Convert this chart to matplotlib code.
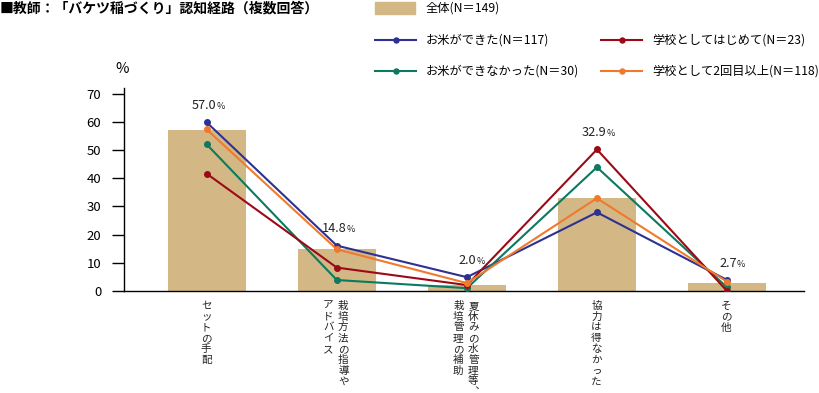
import numpy as np
import matplotlib
matplotlib.use("Agg")
import matplotlib.pyplot as plt
from matplotlib.lines import Line2D
from matplotlib.patches import Rectangle

plt.rcParams['font.family'] = ['Noto Sans CJK JP', 'DejaVu Sans']

W, H = 819, 393

# ── data ────────────────────────────────────────────────────────────────────
title = "■教師：「バケツ稲づくり」認知経路（複数回答）"

# vertical labels, columns listed right -> left
categories = [
    ["セットの手配"],
    ["栽培方法の指導や", "アドバイス"],
    ["夏休みの水管理等︑", "栽培管理の補助"],
    ["協力は得なかった"],
    ["その他"],
]
total = [57.0, 14.8, 2.0, 32.9, 2.7]
rice_ok = [59.8, 16.1, 4.9, 27.9, 3.9]
rice_ng = [52.0, 3.9, 1.0, 43.9, 1.3]
first_time = [41.6, 8.3, 2.1, 50.2, 0.0]
second_up = [57.3, 14.8, 2.8, 32.9, 3.3]

total_label = "全体(N＝149)"
series = [
    ("お米ができた(N＝117)", rice_ok, "#2E3192"),
    ("お米ができなかった(N＝30)", rice_ng, "#0B7A5F"),
    ("学校としてはじめて(N＝23)", first_time, "#9B0A16"),
    ("学校として2回目以上(N＝118)", second_up, "#F07A2C"),
]
yticks = [0, 10, 20, 30, 40, 50, 60, 70]
BAR_COLOR = "#D3B886"


def fx(px):
    return px / W


def fy(py):
    return 1 - py / H


fig = plt.figure(figsize=(W / 100, H / 100), dpi=100)
ax = fig.add_axes([fx(124), fy(291), (804 - 124) / W, (291 - 88) / H])

x = np.arange(len(total))
ax.bar(x, total, width=0.6, color=BAR_COLOR, zorder=1)
for name, vals, color in series:
    ax.plot(x, vals, color=color, lw=1.5, marker="o", ms=4, zorder=3)

ax.set_xlim(-0.636, 4.592)
ax.set_ylim(0, 72)
ax.set_yticks(yticks)
ax.set_xticks([])
for s in ["top", "right"]:
    ax.spines[s].set_visible(False)
for s in ["left", "bottom"]:
    ax.spines[s].set_linewidth(1.0)
ax.tick_params(axis="y", length=8.8, width=1.0, labelsize=9.5, pad=7.5)

# value labels above each group
for i, v in enumerate(total):
    top = max([total[i]] + [vals[i] for _, vals, _ in series])
    ax.annotate(f"{v:.1f}", xy=(i, top), xytext=(7, 12), textcoords="offset points",
                ha="right", va="center", fontsize=9.2, color="#222222")
    ax.annotate("%", xy=(i, top), xytext=(7, 11.5), textcoords="offset points",
                ha="left", va="center", fontsize=6.5, color="#222222")

# vertical category labels
for i, cols in enumerate(categories):
    if len(cols) == 1:
        offs = [-0.5]
    else:
        offs = [6.5, -8.5]
    for col, dx in zip(cols, offs):
        ax.annotate("\n".join(col), xy=(i, 0), xycoords=("data", "axes fraction"),
                    xytext=(dx / 1.389, -7), textcoords="offset points",
                    ha="center", va="top", fontsize=7.6, linespacing=1.1,
                    color="#222222")

fig.text(fx(122), fy(69), "%", ha="center", va="center", fontsize=10.5)

# title
fig.text(fx(0), fy(8), title, ha="left", va="center", fontsize=10, fontweight="bold")

# legend (drawn by hand to match layout)
fig.add_artist(Rectangle((fx(375), fy(14)), (415 - 375) / W, 12 / H,
                         transform=fig.transFigure, color=BAR_COLOR))
fig.text(fx(426), fy(8), total_label, ha="left", va="center", fontsize=8.8)
legend_pos = [(375, 40), (375, 71), (601, 40), (601, 71)]
for (name, vals, color), (lx, ly) in zip(series, legend_pos):
    fig.add_artist(Line2D([fx(lx), fx(lx + 41)], [fy(ly), fy(ly)], transform=fig.transFigure,
                          color=color, lw=1.5))
    fig.add_artist(Line2D([fx(lx + 20.5)], [fy(ly)], transform=fig.transFigure,
                          color=color, marker="o", ms=3.6))
    fig.text(fx(lx + 51), fy(ly), name, ha="left", va="center", fontsize=8.8)

fig.savefig("out.png", dpi=100)
